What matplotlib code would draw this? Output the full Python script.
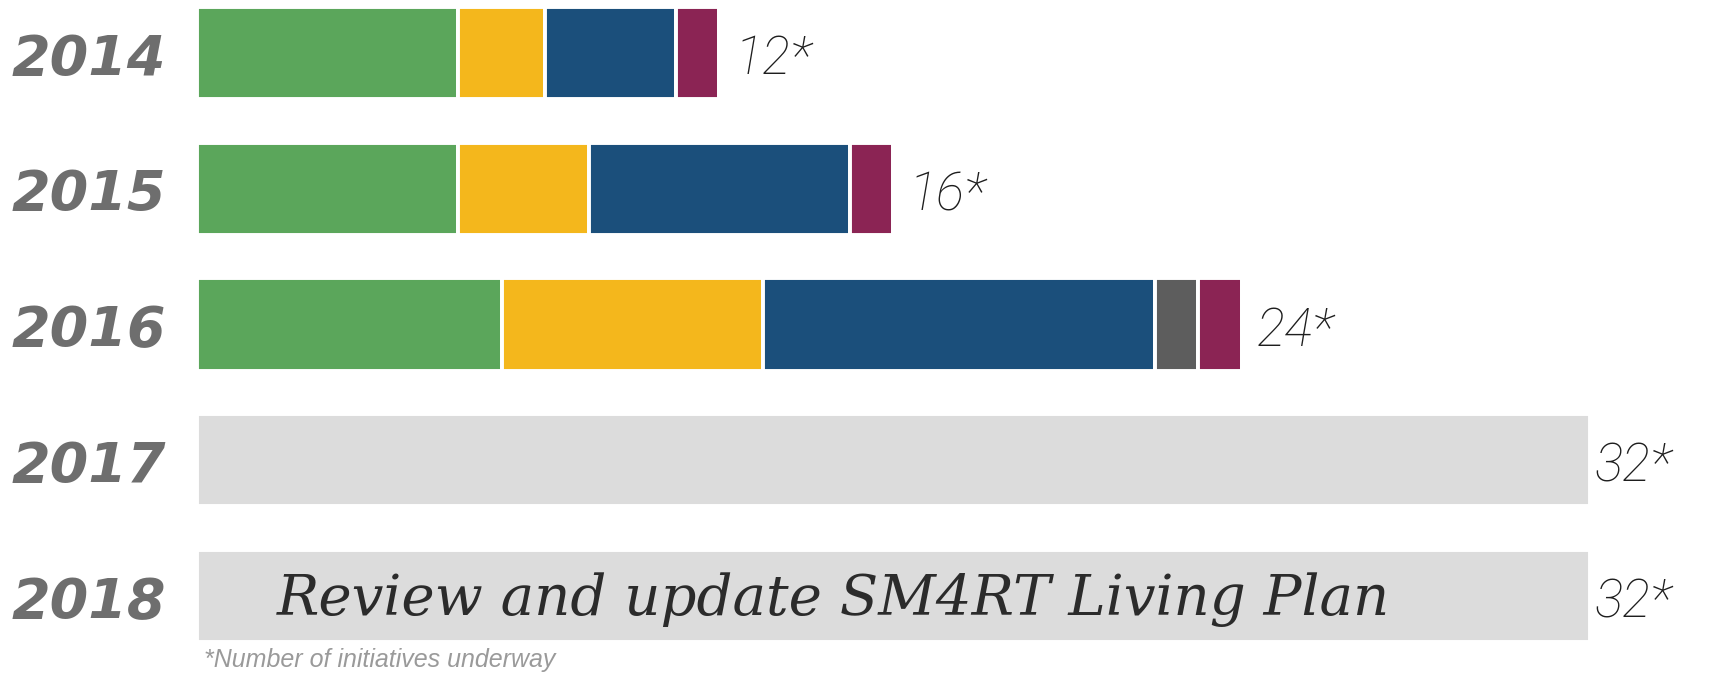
import matplotlib
matplotlib.use("Agg")
import matplotlib.pyplot as plt
import numpy as np

# -----------------------------
# data
# -----------------------------
years = ["2014", "2015", "2016", "2017", "2018"]
green = [6, 6, 7, 0, 0]
yellow = [2, 3, 6, 0, 0]
blue = [3, 6, 9, 0, 0]
dark_gray = [0, 0, 1, 0, 0]
magenta = [1, 1, 1, 0, 0]
planned = [0, 0, 0, 32, 32]
totals = [12, 16, 24, 32, 32]
plan_text = "Review and update SM4RT Living Plan"
footnote = "*Number of initiatives underway"

segments = [
    (green, "#5ba65b"),
    (yellow, "#f4b71c"),
    (blue, "#1b4f7b"),
    (dark_gray, "#5d5d5d"),
    (magenta, "#8b2454"),
    (planned, "#dcdcdc"),
]

fig = plt.figure(figsize=(17.25, 6.78), dpi=100)
ax = fig.add_axes([0, 0, 1, 1])

px_per_unit = 43.53
ax.set_xlim(-197 / px_per_unit, (1725 - 197) / px_per_unit)
ax.set_ylim(4.604, -0.39)
ax.axis("off")

y = np.arange(len(years))
left = np.zeros(len(years))
for vals, color in segments:
    vals = np.array(vals, dtype=float)
    ax.barh(y, vals, left=left, height=0.68, color=color,
            edgecolor="white", linewidth=2.8)
    left += vals

# year labels
for i, yr in enumerate(years):
    ax.text(-0.72, i + 0.05, yr, ha="right", va="center", fontsize=40,
            fontweight="bold", fontstyle="italic", color="#6e6e6e",
            family="DejaVu Sans")

# totals
for i, t in enumerate(totals):
    x = t + 0.34 if t < 32 else t + 0.1
    ax.text(x, i + 0.05, f"{t}*", ha="left", va="center", fontsize=38,
            fontstyle="italic", fontweight="light", color="#1e1e1e",
            family="Roboto")

ax.text(1.84, 4.03, plan_text, ha="left", va="center", fontsize=40.5,
        fontstyle="italic", color="#2b2b2b", family="DejaVu Serif")

ax.text(0.16, 4.47, footnote, ha="left", va="center", fontsize=18,
        fontstyle="italic", color="#9a9a9a", family="Liberation Sans")

fig.savefig("out.png", dpi=100)
